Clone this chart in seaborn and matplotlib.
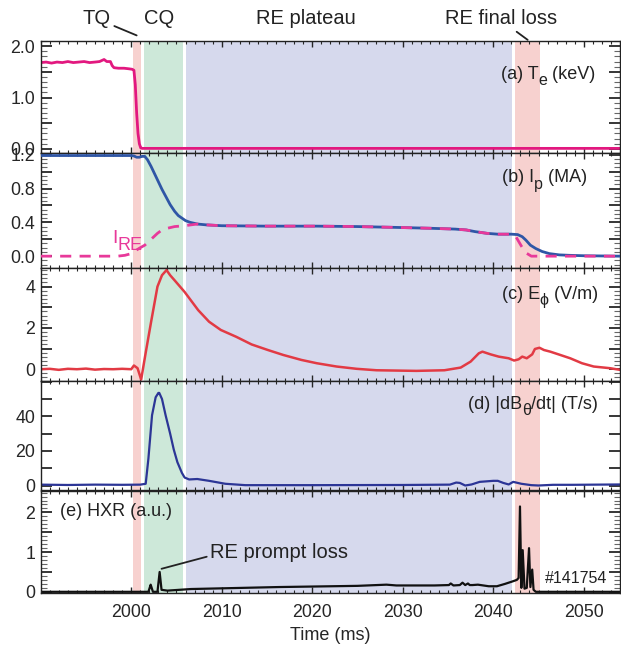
import numpy as np
import pandas as pd
import seaborn as sns
import matplotlib
matplotlib.use("Agg")
import matplotlib.pyplot as plt
from matplotlib.ticker import MultipleLocator, FixedLocator
from matplotlib.transforms import IdentityTransform

# ---------------- data (time in ms) ----------------
te_t = [1990.0, 1990.6, 1991.2, 1991.8, 1992.4, 1993.0, 1993.6, 1994.2, 1994.8, 1995.4,
        1996.0, 1996.5, 1997.0, 1997.3, 1997.7, 1997.9, 1998.1, 1998.6, 1999.2, 1999.7,
        2000.1, 2000.3, 2000.45, 2000.6, 2000.75, 2000.9, 2001.05, 2001.2, 2054.0]
te_v = [1.68, 1.69, 1.67, 1.69, 1.68, 1.70, 1.68, 1.69, 1.70, 1.68,
        1.69, 1.70, 1.74, 1.70, 1.70, 1.62, 1.58, 1.57, 1.57, 1.56,
        1.55, 1.53, 1.25, 0.70, 0.30, 0.10, 0.02, 0.01, 0.01]

ip_t = [1990.0, 2000.0, 2000.3, 2000.6, 2000.9, 2001.2, 2001.5, 2001.8, 2002.2, 2002.6,
        2003.0, 2003.4, 2003.9, 2004.3, 2004.8, 2005.2, 2005.6, 2006.0, 2006.5, 2007.3,
        2008.3, 2010.0, 2015.0, 2020.5, 2025.0, 2029.3, 2033.0, 2035.8, 2037.0, 2038.0,
        2039.3, 2040.5, 2042.0, 2042.7, 2043.2, 2043.6, 2044.1, 2044.7, 2045.4, 2046.2,
        2047.3, 2048.4, 2050.0, 2054.0]
ip_v = [1.19, 1.19, 1.185, 1.17, 1.17, 1.18, 1.18, 1.14, 1.06, 0.97,
        0.88, 0.79, 0.69, 0.61, 0.53, 0.48, 0.45, 0.42, 0.40, 0.38,
        0.37, 0.36, 0.355, 0.355, 0.35, 0.34, 0.33, 0.32, 0.31, 0.29,
        0.27, 0.26, 0.26, 0.255, 0.23, 0.19, 0.13, 0.09, 0.055, 0.03,
        0.015, 0.01, 0.005, 0.0]

ire_t = [1990.0, 1998.5, 1999.3, 2000.0, 2000.4, 2001.0, 2001.5, 2002.0, 2002.4, 2002.9,
         2003.4, 2004.0, 2004.8, 2005.9, 2007.3, 2008.3, 2010.0, 2015.0, 2020.5, 2025.0,
         2029.3, 2033.0, 2035.8, 2037.0, 2038.0, 2039.3, 2040.5, 2042.0, 2042.5, 2043.1,
         2043.6, 2044.2, 2054.0]
ire_v = [0.0, 0.0, 0.01, 0.03, 0.06, 0.10, 0.13, 0.18, 0.22, 0.27,
         0.31, 0.33, 0.35, 0.36, 0.38, 0.37, 0.36, 0.355, 0.355, 0.35,
         0.34, 0.33, 0.32, 0.31, 0.29, 0.27, 0.26, 0.26, 0.23, 0.12,
         0.04, 0.0, 0.0]

ephi_t = [1990.0, 1991.0, 1992.0, 1993.0, 1994.0, 1995.0, 1996.0, 1997.0, 1998.0, 1999.0,
          2000.0, 2000.3, 2000.7, 2001.1, 2001.6, 2002.2, 2002.9, 2003.4, 2003.9, 2004.3,
          2004.8, 2005.9, 2007.4, 2008.6, 2009.9, 2011.6, 2013.3, 2015.1, 2016.8, 2018.8,
          2020.5, 2022.7, 2024.9, 2027.1, 2031.5, 2034.6, 2036.4, 2037.5, 2038.4, 2038.8,
          2039.7, 2040.6, 2041.7, 2042.3, 2042.8, 2043.2, 2043.7, 2044.3, 2044.6, 2045.1,
          2045.6, 2046.3, 2047.2, 2048.5, 2049.8, 2051.1, 2052.9, 2054.0]
ephi_v = [0.00, 0.02, -0.03, 0.02, 0.00, 0.03, -0.02, 0.01, 0.00, 0.02,
          0.00, 0.18, 0.05, -0.50, 0.80, 2.30, 4.00, 4.55, 4.80, 4.55,
          4.30, 3.74, 2.86, 2.30, 1.90, 1.57, 1.20, 0.93, 0.69, 0.45,
          0.29, 0.13, 0.02, -0.05, -0.08, -0.05, 0.08, 0.37, 0.77, 0.85,
          0.72, 0.61, 0.53, 0.42, 0.48, 0.61, 0.53, 0.72, 0.98, 1.04,
          0.93, 0.85, 0.72, 0.53, 0.29, 0.13, 0.05, -0.03]

db_t = [1990.0, 1993.0, 1996.0, 1999.0, 2001.0, 2001.6, 2001.9, 2002.3, 2002.7, 2003.0,
        2003.1, 2003.4, 2003.8, 2004.3, 2004.7, 2005.1, 2005.6, 2005.9, 2006.4, 2007.3,
        2008.6, 2010.4, 2012.6, 2020.0, 2030.0, 2035.2, 2035.9, 2036.3, 2036.9, 2037.6,
        2038.5, 2040.0, 2040.5, 2041.1, 2041.7, 2042.2, 2043.1, 2044.2, 2045.0, 2046.6,
        2048.8, 2054.0]
db_v = [0.5, 0.3, 0.5, 0.4, 0.5, 1.0, 15.6, 40.6, 51.0, 53.5,
        53.5, 50.0, 40.6, 30.0, 20.8, 13.5, 7.3, 4.6, 3.5, 3.75,
        2.7, 1.0, 0.2, 0.2, 0.3, 0.5, 1.7, 1.5, 0.0, 0.6,
        2.1, 2.7, 2.7, 1.5, 0.6, 2.1, 1.0, 0.2, 0.0, 0.4,
        0.4, 0.6]

hxr_t = [1990.0, 2001.9, 2002.15, 2002.26, 2002.4, 2002.9, 2003.14, 2003.35, 2004.0, 2006.6,
         2016.3, 2025.0, 2028.2, 2029.3, 2033.5, 2035.1, 2035.3, 2035.6, 2036.3, 2036.6,
         2036.9, 2037.2, 2037.4, 2037.7, 2038.3, 2039.5, 2040.4, 2041.3, 2042.1, 2042.6,
         2042.8, 2042.95, 2043.1, 2043.25, 2043.45, 2043.7, 2043.95, 2044.1, 2044.3, 2044.45,
         2044.7, 2054.0]
hxr_v = [0.0, 0.0, 0.18, 0.10, 0.0, 0.0, 0.50, 0.05, 0.03, 0.07,
         0.12, 0.15, 0.18, 0.16, 0.16, 0.17, 0.21, 0.16, 0.17, 0.23,
         0.17, 0.21, 0.17, 0.17, 0.18, 0.14, 0.14, 0.20, 0.26, 0.30,
         0.35, 2.15, 0.10, 1.05, 0.08, 0.10, 1.10, 0.12, 0.56, 0.05,
         0.0, 0.0]

# phase windows (ms)
tq_win = (2000.15, 2001.1)
cq_win = (2001.4, 2005.7)
plateau_win = (2006.05, 2042.1)
loss_win = (2042.45, 2045.15)
phase_names = ["TQ", "CQ", "RE plateau", "RE final loss"]
time_ticks = [2000, 2010, 2020, 2030, 2040, 2050]

# ---------------- style ----------------
sns.set_theme(style="ticks")
plt.rcParams["font.family"] = ["Liberation Sans", "DejaVu Sans"]
plt.rcParams["axes.linewidth"] = 1.0
plt.rcParams["axes.edgecolor"] = "#222222"

RED_BAND = "#f7d1cf"
GREEN_BAND = "#cde8d9"
BLUE_BAND = "#d6d9ed"
MAGENTA = "#e2187f"
IRE_COL = "#e8399a"
BLUE = "#2f56a6"
RED = "#e23a44"
NAVY = "#2c3596"
INK = "#222222"

TICK_FS = 12.8
LAB_FS = 13.0

fig = plt.figure(figsize=(6.21, 6.54), dpi=100)
W, H = 621.0, 654.0
left_px, right_px = 40.7, 620.0
panels_px = [(41, 153), (153, 268), (268, 381), (381, 490), (491, 593)]
axes = []
for top, bot in panels_px:
    ax = fig.add_axes([left_px / W, 1 - bot / H, (right_px - left_px) / W, (bot - top) / H])
    axes.append(ax)
ax_a, ax_b, ax_c, ax_d, ax_e = axes

for ax in axes:
    ax.set_xlim(1990, 2054)
    for (a, b), c in zip([tq_win, cq_win, plateau_win, loss_win],
                         [RED_BAND, GREEN_BAND, BLUE_BAND, RED_BAND]):
        ax.axvspan(a, b, color=c, lw=0, zorder=0)
    ax.xaxis.set_major_locator(FixedLocator(time_ticks))
    ax.xaxis.set_minor_locator(MultipleLocator(1))
    ax.tick_params(axis="x", which="major", direction="in", top=True, bottom=True,
                   length=4, width=1.0, labelsize=TICK_FS, pad=8)
    ax.tick_params(axis="x", which="minor", direction="in", top=True, bottom=True,
                   length=2, width=0.8)
    ax.tick_params(axis="y", which="major", direction="in", left=True, right=True,
                   length=8, width=1.3, labelsize=TICK_FS, pad=4)
    ax.tick_params(axis="y", which="minor", direction="in", left=True, right=True,
                   length=4, width=0.8, color="#666666")
    if ax is not ax_e:
        ax.tick_params(axis="x", labelbottom=False)
    ax.set_ylabel("")
    ax.set_xlabel("")


def set_y(ax, lim, majors, labels, minor):
    ax.set_ylim(*lim)
    ax.yaxis.set_major_locator(FixedLocator(majors))
    ax.set_yticklabels(labels)
    if minor:
        ax.yaxis.set_minor_locator(MultipleLocator(minor))
    else:
        ax.yaxis.set_minor_locator(FixedLocator([]))


renderer = fig.canvas.get_renderer()


def rich_label(ax, x, y, parts, ha="right", color=INK, coords="axes"):
    """Draw a label made of pieces (text, size, baseline shift in px) side by side."""
    if coords == "axes":
        px, py = ax.transAxes.transform((x, y))
    else:
        px, py = ax.transData.transform((x, y))
    base_fs = parts[0][1]
    base_y = py - 0.36 * base_fs * 100 / 72
    pieces = []
    total = 0.0
    for s, fs, dy in parts:
        t = fig.text(0, 0, s, fontsize=fs, color=color, ha="left", va="baseline",
                     transform=IdentityTransform())
        w = t.get_window_extent(renderer).width
        pieces.append((t, w, dy))
        total += w
    start = px - total if ha == "right" else (px - total / 2 if ha == "center" else px)
    cur = start
    for t, w, dy in pieces:
        t.set_position((cur, base_y + dy))
        cur += w


# (a) electron temperature
sns.lineplot(x=te_t, y=te_v, ax=ax_a, color=MAGENTA, linewidth=2.0,
             estimator=None, sort=False, legend=False)
set_y(ax_a, (-0.08, 2.1), [0, 0.5, 1.0, 1.5, 2.0], ["0.0", "", "1.0", "", "2.0"], 0.1)
SUB = 11.5
rich_label(ax_a, 0.958, 0.72, [("(a) T", LAB_FS, 0), ("e", SUB, -6), (" (keV)", LAB_FS, 0)])

# (b) plasma current and runaway current
sns.lineplot(x=ip_t, y=ip_v, ax=ax_b, color=BLUE, linewidth=2.0,
             estimator=None, sort=False, legend=False, zorder=3)
sns.lineplot(x=ire_t, y=ire_v, ax=ax_b, color=IRE_COL, linewidth=2.0,
             linestyle=(0, (4, 3)), estimator=None, sort=False, legend=False, zorder=4)
set_y(ax_b, (-0.14, 1.22), [0, 0.2, 0.4, 0.6, 0.8, 1.0, 1.2],
      ["0.0", "", "0.4", "", "0.8", "", "1.2"], 0.05)
rich_label(ax_b, 0.943, 0.80, [("(b) I", LAB_FS, 0), ("p", SUB, -6), (" (MA)", LAB_FS, 0)])
rich_label(ax_b, 1999.6, 0.235, [("I", 14.0, 0), ("RE", 13.0, -7)], ha="center",
           color=IRE_COL, coords="data")

# (c) toroidal electric field
sns.lineplot(x=ephi_t, y=ephi_v, ax=ax_c, color=RED, linewidth=1.8,
             estimator=None, sort=False, legend=False)
set_y(ax_c, (-0.57, 4.9), [0, 1, 2, 3, 4], ["0", "", "2", "", "4"], 0.2)
rich_label(ax_c, 0.962, 0.78, [("(c) E", LAB_FS, 0), ("\u03d5", SUB, -6), (" (V/m)", LAB_FS, 0)])

# (d) poloidal field fluctuation
sns.lineplot(x=db_t, y=db_v, ax=ax_d, color=NAVY, linewidth=1.6,
             estimator=None, sort=False, legend=False)
set_y(ax_d, (-2.6, 60.4), [0, 10, 20, 30, 40, 50, 60],
      ["0", "", "20", "", "40", "", ""], None)
rich_label(ax_d, 0.9625, 0.80, [("(d) |dB", LAB_FS, 0), ("\u03b8", SUB, -6),
                                ("/dt| (T/s)", LAB_FS, 0)])

# (e) hard X-ray signal
sns.lineplot(x=hxr_t, y=hxr_v, ax=ax_e, color="#111111", linewidth=1.6,
             estimator=None, sort=False, legend=False)
set_y(ax_e, (-0.03, 2.54), [0, 0.5, 1.0, 1.5, 2.0], ["0", "", "1", "", "2"], 0.1)
ax_e.text(0.033, 0.80, "(e) HXR (a.u.)", transform=ax_e.transAxes,
          ha="left", va="center", fontsize=LAB_FS, color=INK)
ax_e.text(0.978, 0.144, "#141754", transform=ax_e.transAxes,
          ha="right", va="center", fontsize=11.5, color=INK)
ax_e.annotate("RE prompt loss", xy=(2003.35, 0.58), xycoords="data",
              xytext=(210, 654 - 553), textcoords="figure pixels",
              ha="left", va="center", fontsize=14.5, color=INK,
              arrowprops=dict(arrowstyle="-", color=INK, lw=1.3,
                              shrinkA=0, shrinkB=0, relpos=(0.0, 0.35)))
ax_e.set_xlabel("Time (ms)", fontsize=LAB_FS, labelpad=4)

# phase labels above the top panel
TOP_FS = 14.5
ax_a.annotate(phase_names[0], xy=(2000.6, 1.05), xycoords=("data", "axes fraction"),
              xytext=(97, 654 - 19), textcoords="figure pixels",
              ha="center", va="center", fontsize=TOP_FS, color=INK,
              arrowprops=dict(arrowstyle="-", color=INK, lw=1.3,
                              shrinkA=0, shrinkB=0, relpos=(1.0, 0.2)))
fig.text(159 / W, 1 - 19 / H, phase_names[1], ha="center", va="center",
         fontsize=TOP_FS, color=INK)
fig.text(306 / W, 1 - 19 / H, phase_names[2], ha="center", va="center",
         fontsize=TOP_FS, color=INK)
ax_a.annotate(phase_names[3], xy=(2043.8, 1.01), xycoords=("data", "axes fraction"),
              xytext=(501, 654 - 19), textcoords="figure pixels",
              ha="center", va="center", fontsize=TOP_FS, color=INK,
              arrowprops=dict(arrowstyle="-", color=INK, lw=1.3,
                              shrinkA=0, shrinkB=0, relpos=(0.6, 0.0)))

fig.savefig("out.png", dpi=100)
